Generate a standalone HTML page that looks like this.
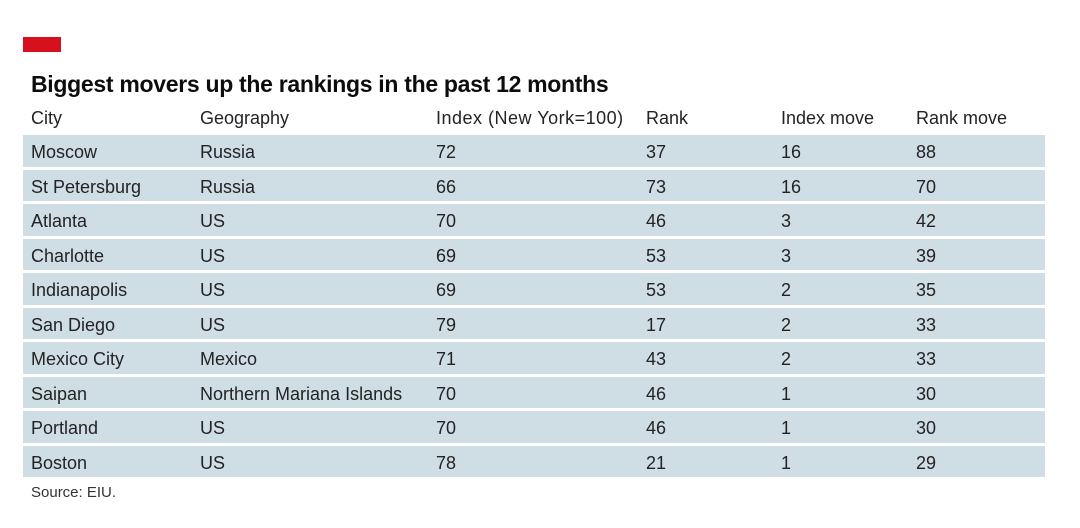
<!DOCTYPE html>
<html><head><meta charset="utf-8">
<style>
html,body{margin:0;padding:0;background:#fff;}
body{width:1080px;height:528px;position:relative;overflow:hidden;font-family:"Liberation Sans",sans-serif;color:#1a1a1a;}
.red{position:absolute;left:23px;top:37px;width:38px;height:15px;background:#d7101e;}
.title{position:absolute;left:31px;top:71px;font-size:23px;line-height:26px;font-weight:bold;letter-spacing:-0.3px;white-space:nowrap;color:#0d0d0d;}
.row{position:absolute;left:23px;width:1022px;height:31.5px;background:#cfdee5;}
.t{position:absolute;font-size:18px;white-space:nowrap;line-height:20px;color:#232323;}
.src{position:absolute;left:31px;top:484px;font-size:15px;color:#333;}
</style></head><body>
<div class="red"></div>
<div class="title">Biggest movers up the rankings in the past 12 months</div>

<div class="t" style="left:31px;top:108px">City</div>
<div class="t" style="left:200px;top:108px">Geography</div>
<div class="t" style="left:436px;top:108px;letter-spacing:0.5px">Index (New York=100)</div>
<div class="t" style="left:646px;top:108px">Rank</div>
<div class="t" style="left:781px;top:108px">Index move</div>
<div class="t" style="left:916px;top:108px">Rank move</div>

<div class="row" style="top:135px"></div>
<div class="row" style="top:169.5px"></div>
<div class="row" style="top:204px"></div>
<div class="row" style="top:238.5px"></div>
<div class="row" style="top:273px"></div>
<div class="row" style="top:307.5px"></div>
<div class="row" style="top:342px"></div>
<div class="row" style="top:376.5px"></div>
<div class="row" style="top:411px"></div>
<div class="row" style="top:445.5px"></div>

<div class="t" style="left:31px;top:142px">Moscow</div><div class="t" style="left:200px;top:142px">Russia</div><div class="t" style="left:436px;top:142px">72</div><div class="t" style="left:646px;top:142px">37</div><div class="t" style="left:781px;top:142px">16</div><div class="t" style="left:916px;top:142px">88</div>
<div class="t" style="left:31px;top:176.5px">St Petersburg</div><div class="t" style="left:200px;top:176.5px">Russia</div><div class="t" style="left:436px;top:176.5px">66</div><div class="t" style="left:646px;top:176.5px">73</div><div class="t" style="left:781px;top:176.5px">16</div><div class="t" style="left:916px;top:176.5px">70</div>
<div class="t" style="left:31px;top:211px">Atlanta</div><div class="t" style="left:200px;top:211px">US</div><div class="t" style="left:436px;top:211px">70</div><div class="t" style="left:646px;top:211px">46</div><div class="t" style="left:781px;top:211px">3</div><div class="t" style="left:916px;top:211px">42</div>
<div class="t" style="left:31px;top:245.5px">Charlotte</div><div class="t" style="left:200px;top:245.5px">US</div><div class="t" style="left:436px;top:245.5px">69</div><div class="t" style="left:646px;top:245.5px">53</div><div class="t" style="left:781px;top:245.5px">3</div><div class="t" style="left:916px;top:245.5px">39</div>
<div class="t" style="left:31px;top:280px">Indianapolis</div><div class="t" style="left:200px;top:280px">US</div><div class="t" style="left:436px;top:280px">69</div><div class="t" style="left:646px;top:280px">53</div><div class="t" style="left:781px;top:280px">2</div><div class="t" style="left:916px;top:280px">35</div>
<div class="t" style="left:31px;top:314.5px">San Diego</div><div class="t" style="left:200px;top:314.5px">US</div><div class="t" style="left:436px;top:314.5px">79</div><div class="t" style="left:646px;top:314.5px">17</div><div class="t" style="left:781px;top:314.5px">2</div><div class="t" style="left:916px;top:314.5px">33</div>
<div class="t" style="left:31px;top:349px">Mexico City</div><div class="t" style="left:200px;top:349px">Mexico</div><div class="t" style="left:436px;top:349px">71</div><div class="t" style="left:646px;top:349px">43</div><div class="t" style="left:781px;top:349px">2</div><div class="t" style="left:916px;top:349px">33</div>
<div class="t" style="left:31px;top:383.5px">Saipan</div><div class="t" style="left:200px;top:383.5px">Northern Mariana Islands</div><div class="t" style="left:436px;top:383.5px">70</div><div class="t" style="left:646px;top:383.5px">46</div><div class="t" style="left:781px;top:383.5px">1</div><div class="t" style="left:916px;top:383.5px">30</div>
<div class="t" style="left:31px;top:418px">Portland</div><div class="t" style="left:200px;top:418px">US</div><div class="t" style="left:436px;top:418px">70</div><div class="t" style="left:646px;top:418px">46</div><div class="t" style="left:781px;top:418px">1</div><div class="t" style="left:916px;top:418px">30</div>
<div class="t" style="left:31px;top:452.5px">Boston</div><div class="t" style="left:200px;top:452.5px">US</div><div class="t" style="left:436px;top:452.5px">78</div><div class="t" style="left:646px;top:452.5px">21</div><div class="t" style="left:781px;top:452.5px">1</div><div class="t" style="left:916px;top:452.5px">29</div>

<div class="src">Source: EIU.</div>
</body></html>
